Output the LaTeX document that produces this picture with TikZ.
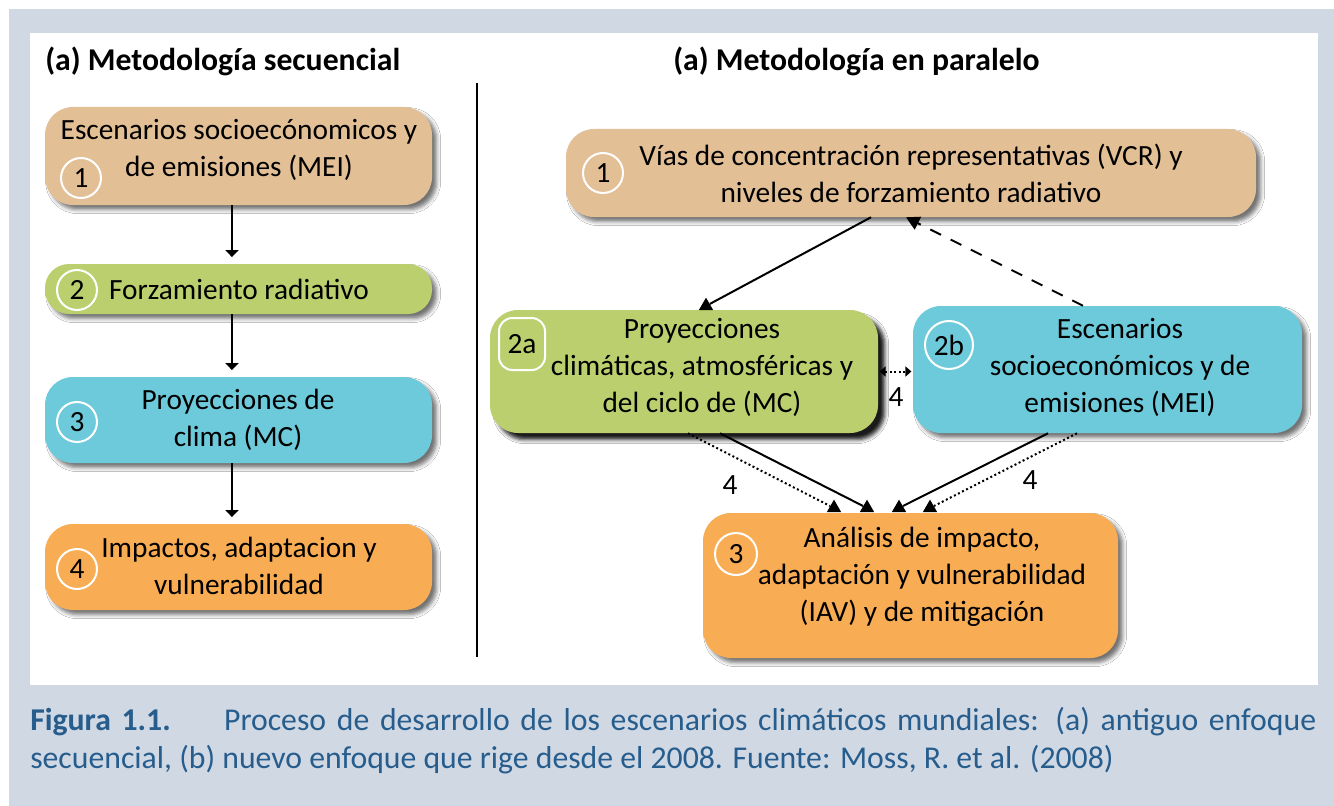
\documentclass[tikz,border=0pt]{standalone}
\usepackage{fontspec}
\setmainfont{Carlito}
\usepackage{tikz}
\usetikzlibrary{arrows.meta}
\usetikzlibrary{shadows.blur}
\usetikzlibrary{shapes.geometric}
\definecolor{tanbox}{HTML}{E3BF96}
\definecolor{greenbox}{HTML}{BCCF6F}
\definecolor{cyanbox}{HTML}{6DCADB}
\definecolor{orangebox}{HTML}{F8AD55}
\definecolor{panelbg}{HTML}{D0D8E4}
\definecolor{capblue}{HTML}{265D8C}
\newcommand{\boxfont}{\fontsize{22}{27.75}\selectfont}
\newcommand{\titlefont}{\fontsize{23.8}{28}\selectfont\bfseries}
\tikzset{
    box/.style={fill=#1,rounded corners=21pt,inner sep=0pt,minimum width=290.25pt},
    softshadow/.style={blur shadow={shadow xshift=3.5pt,shadow yshift=-3.5pt,shadow blur radius=3pt,shadow opacity=55}},
    hardshadow/.style={blur shadow={shadow xshift=5pt,shadow yshift=-5pt,shadow blur radius=3pt,shadow opacity=90}},
    num/.style={circle,draw=white,line width=1.5pt,minimum size=30pt,inner sep=0pt,font=\boxfont},
    txt/.style={align=center,font=\boxfont,inner sep=0pt},
    tip/.style={regular polygon,regular polygon sides=3,fill=black,minimum size=12.5pt,inner sep=0pt},
    conn/.style={line width=1.5pt},
    dotline/.style={line width=1.5pt,dash pattern=on 1.5pt off 1.9pt}
}
\begin{document}
\begin{tikzpicture}[x=0.75pt,y=-0.75pt]
\useasboundingbox (0,0) rectangle (1334,806);
\fill[panelbg] (9,9) rectangle (1334,806);
\fill[white] (30,33) rectangle (1318,685);
% titles and divider
\node[anchor=base west,inner sep=0pt,font=\titlefont] (titleseq) at (45,71) {(a) Metodología secuencial};
\node[anchor=base west,inner sep=0pt,font=\titlefont] (titlepar) at (673,71) {(a) Metodología en paralelo};
\draw[line width=1.6pt] (477,83) -- (477,657);
% sequential column
\foreach \n/\y/\h/\r/\col in {s1/156/73.5/21/tanbox, s2/289/37.5/18/greenbox, s3/420/64.5/21/cyanbox, s4/567/64.5/21/orangebox}{
    \node[box=\col,softshadow,rounded corners=\r pt,minimum height=\h pt] (\n) at (238.5,\y) {};
}
\node[txt] (s1t) at (239,150) {Escenarios socioecónomicos y\\de emisiones (MEI)};
\node[txt] (s2t) at (239,289) {Forzamiento radiativo};
\node[txt] (s3t) at (238,420) {Proyecciones de\\clima (MC)};
\node[txt] (s4t) at (239,566) {Impactos, adaptacion y\\vulnerabilidad};
\foreach \p/\x/\y/\l in {c1/81/178/1, c2/77/290/2, c3/77/422/3, c4/77/569/4}{
    \node[num] (\p) at (\x,\y) {\l};
}
\foreach \a/\b in {s1/s2, s2/s3, s3/s4}{
    \draw[conn,-{Triangle[width=9.75pt,length=5.25pt]},shorten >=5pt] ([xshift=-4.9pt]\a.south) -- ([xshift=-4.9pt]\b.north);
}
% parallel scheme
\node[box=tanbox,softshadow,minimum width=517.5pt,minimum height=66pt] (r1) at (911,173) {};
\node[box=greenbox,hardshadow,minimum width=291pt,minimum height=92.25pt] (p2a) at (684,371.5) {};
\node[box=cyanbox,softshadow,minimum width=291.75pt,minimum height=95.25pt] (p2b) at (1107.5,369.5) {};
\node[box=orangebox,softshadow,minimum width=311.25pt,minimum height=108.75pt] (p3) at (910.5,585.5) {};
\node[txt] (r1t) at (911,173.5) {Vías de concentración representativas (VCR) y\\niveles de forzamiento radiativo};
\node[txt] (p2at) at (702,367) {Proyecciones\\climáticas, atmosféricas y\\del ciclo de (MC)};
\node[txt] (p2bt) at (1120,367) {Escenarios\\socioeconómicos y de\\emisiones (MEI)};
\node[txt] (p3t) at (922,577) {Análisis de impacto,\\adaptación y vulnerabilidad\\(IAV) y de mitigación};
\node[num] (cr1) at (603,173) {1};
\node[num,rectangle,rounded corners=10pt,minimum width=34.5pt,minimum height=39pt] (c2a) at (522,344) {2a};
\node[num,minimum size=36pt] (c2b) at (949,345) {2b};
\node[num,minimum size=31.5pt] (cp3) at (736,554) {3};
% tips and connectors
\node[tip] (tip2a) at (706,306) {};
\node[tip] (tipa) at (834,508) {};
\node[tip] (tipb) at (867,508) {};
\node[tip] (tipc) at (899,508) {};
\node[tip] (tipd) at (930,508) {};
\draw[conn] ([xshift=-30pt]r1.south) -- (tip2a);
\draw[conn,dash pattern=on 9pt off 8pt,-{Triangle[width=10.5pt,length=10pt]}] ([xshift=-18.4pt]p2b.north) -- ([xshift=-3.75pt]r1.south);
\draw[dotline,{Triangle[width=7.5pt,length=4.5pt]}-{Triangle[width=7.5pt,length=4.5pt]},shorten <=1pt,shorten >=1pt] (p2a.east) -- (p2a.east -| p2b.west);
\draw[dotline] ([xshift=3pt]p2a.south) -- (tipa);
\draw[conn] ([xshift=27pt]p2a.south) -- (tipb);
\draw[conn] ([xshift=-44.6pt]p2b.south) -- (tipc);
\draw[dotline] ([xshift=-22.9pt]p2b.south) -- (tipd);
\node[txt] (n4mid) at (896,397) {4};
\node[txt] (n4left) at (730,485) {4};
\node[txt] (n4right) at (1030,480) {4};
% caption
\node[anchor=base west,inner sep=0pt,text=capblue] (caption) at (30,730) {\parbox[t]{964.5pt}{\fontsize{23.8}{28.5}\selectfont\textbf{Figura 1.1.}\hspace{40pt}Proceso de desarrollo de los escenarios climáticos mundiales: (a) antiguo enfoque\linebreak secuencial, (b) nuevo enfoque que rige desde el 2008. Fuente: Moss, R. et al. (2008)}};
\end{tikzpicture}
\end{document}
